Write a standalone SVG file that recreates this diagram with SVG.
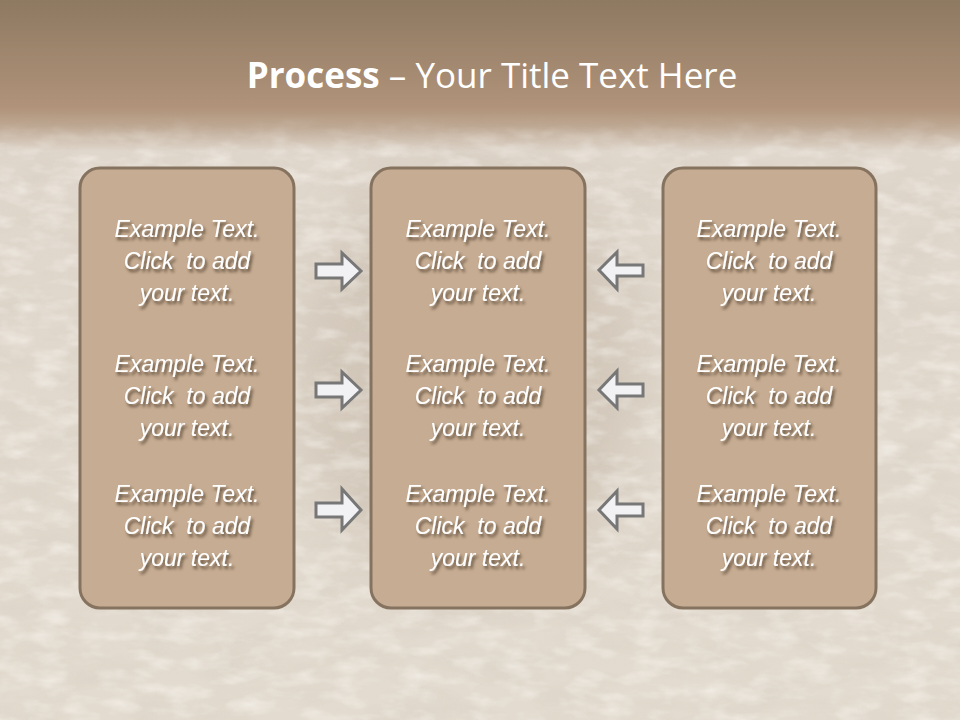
<svg xmlns="http://www.w3.org/2000/svg" width="960" height="720" viewBox="0 0 960 720">
<defs>
<linearGradient id="bg" x1="0" y1="0" x2="0" y2="1">
<stop offset="0" stop-color="#8e7961"/>
<stop offset="0.15" stop-color="#b0937a"/>
<stop offset="0.175" stop-color="#bea893"/>
<stop offset="0.21" stop-color="#e0d7cc"/>
<stop offset="1" stop-color="#e3dbcf"/>
</linearGradient>
<linearGradient id="fade" x1="0" y1="0" x2="0" y2="1">
<stop offset="0" stop-color="#000"/>
<stop offset="0.16" stop-color="#000"/>
<stop offset="0.22" stop-color="#fff"/>
<stop offset="1" stop-color="#fff"/>
</linearGradient>
<filter id="tex" x="0" y="0" width="100%" height="100%">
<feTurbulence type="fractalNoise" baseFrequency="0.015 0.04" numOctaves="4" seed="7"/>
<feColorMatrix type="matrix" values="0 0 0 0 0.50  0 0 0 0 0.45  0 0 0 0 0.38  1.6 0 0 0 -0.65"/>
</filter>
<filter id="tex2" x="0" y="0" width="100%" height="100%">
<feTurbulence type="fractalNoise" baseFrequency="0.03 0.07" numOctaves="3" seed="3"/>
<feColorMatrix type="matrix" values="0 0 0 0 1  0 0 0 0 0.99  0 0 0 0 0.96  1.8 0 0 0 -0.8"/>
</filter>
<filter id="blur"><feGaussianBlur stdDeviation="30"/></filter>
<filter id="sh" x="-10%" y="-20%" width="130%" height="160%">
<feGaussianBlur in="SourceAlpha" stdDeviation="1.6"/>
<feOffset dx="2" dy="3" result="b"/>
<feFlood flood-color="#3a2c1e" flood-opacity="0.75"/>
<feComposite in2="b" operator="in"/>
<feMerge><feMergeNode/><feMergeNode in="SourceGraphic"/></feMerge>
</filter>
<mask id="m"><rect width="960" height="720" fill="url(#fade)"/></mask>
</defs>
<style>
.box{fill:#c6ac92;stroke:#86735f;stroke-width:3}
.t{font-family:"Liberation Sans",Arial,sans-serif;font-style:italic;font-size:23px;fill:#fff;text-anchor:middle;white-space:pre}
.ar{fill:#f2f2f4;stroke:#777;stroke-width:3;stroke-linejoin:miter}
</style>
<rect width="960" height="720" fill="url(#bg)"/>
<g mask="url(#m)">
<ellipse cx="470" cy="380" rx="170" ry="210" fill="#a89783" opacity="0.25" filter="url(#blur)"/>
<rect width="960" height="720" filter="url(#tex)" opacity="0.15"/>
<rect width="960" height="720" filter="url(#tex2)" opacity="0.55"/>
</g>
<text x="492" y="88" font-family="'Open Sans','Liberation Sans',sans-serif" font-size="35" fill="#fff" text-anchor="middle"><tspan font-weight="bold">Process</tspan> – Your Title Text Here</text>
<g id="connectors">
<path class="ar" d="M316,264 H342 V253 L361,271 L342,289 V278 H316 Z"/>
<path class="ar" d="M316,383 H342 V372 L361,390 L342,408 V397 H316 Z"/>
<path class="ar" d="M316,503 H342 V489 L361,510 L342,530 V517 H316 Z"/>
<path class="ar" d="M643,265 H617 V252 L599,270 L617,289 V276 H643 Z"/>
<path class="ar" d="M643,384 H617 V371 L599,390 L617,408 V396 H643 Z"/>
<path class="ar" d="M643,504 H617 V491 L599,510 L617,529 V516 H643 Z"/>
</g>
<g id="left">
<rect class="box" x="80" y="168" width="214" height="440" rx="20"/>
<g filter="url(#sh)">
<text class="t" x="187" y="237">Example Text.</text><text class="t" x="187" y="269">Click  to add</text><text class="t" x="187" y="301">your text.</text>
<text class="t" x="187" y="372">Example Text.</text><text class="t" x="187" y="404">Click  to add</text><text class="t" x="187" y="436">your text.</text>
<text class="t" x="187" y="502">Example Text.</text><text class="t" x="187" y="534">Click  to add</text><text class="t" x="187" y="566">your text.</text>
</g>
</g>
<g id="middle">
<rect class="box" x="371" y="168" width="214" height="440" rx="20"/>
<g filter="url(#sh)">
<text class="t" x="478" y="237">Example Text.</text><text class="t" x="478" y="269">Click  to add</text><text class="t" x="478" y="301">your text.</text>
<text class="t" x="478" y="372">Example Text.</text><text class="t" x="478" y="404">Click  to add</text><text class="t" x="478" y="436">your text.</text>
<text class="t" x="478" y="502">Example Text.</text><text class="t" x="478" y="534">Click  to add</text><text class="t" x="478" y="566">your text.</text>
</g>
</g>
<g id="right">
<rect class="box" x="663" y="168" width="213" height="440" rx="20"/>
<g filter="url(#sh)">
<text class="t" x="769" y="237">Example Text.</text><text class="t" x="769" y="269">Click  to add</text><text class="t" x="769" y="301">your text.</text>
<text class="t" x="769" y="372">Example Text.</text><text class="t" x="769" y="404">Click  to add</text><text class="t" x="769" y="436">your text.</text>
<text class="t" x="769" y="502">Example Text.</text><text class="t" x="769" y="534">Click  to add</text><text class="t" x="769" y="566">your text.</text>
</g>
</g>
</svg>
